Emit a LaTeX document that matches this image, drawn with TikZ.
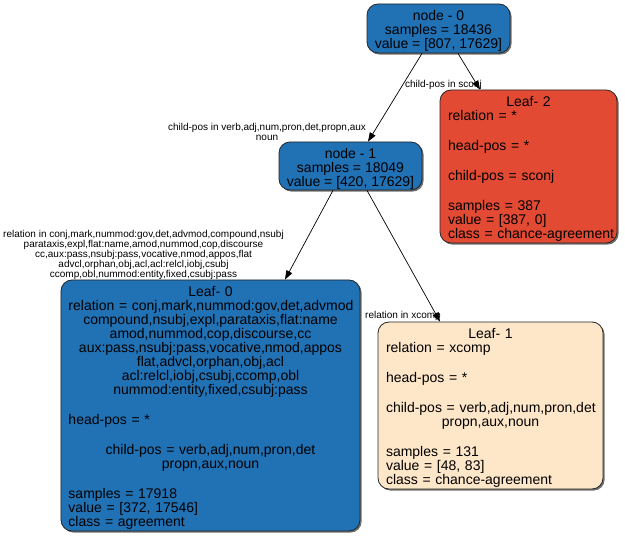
\documentclass[tikz,border=0pt]{standalone}
\usepackage{fontspec}
\setmainfont{Liberation Sans}
\usetikzlibrary{arrows.meta,shadows}

\definecolor{splitblue}{RGB}{33,113,181}
\definecolor{leafred}{RGB}{227,74,51}
\definecolor{leafpeach}{RGB}{254,230,200}

% left-justified line inside a centred node
\newcommand{\lft}[1]{\makebox[\hsize][l]{#1}}
% taller first line, pushes the text block slightly down
\newcommand{\firstline}{\rule{0pt}{15.5bp}}

\tikzset{
  treebox/.style={draw=black!85, line width=0.8bp, rounded corners=11bp,
    inner sep=0pt, align=center,
    font=\fontsize{14bp}{14bp}\selectfont,
    drop shadow={shadow xshift=1.6bp, shadow yshift=-1.6bp, fill=black!70, opacity=0.8}},
  edgelabel/.style={inner sep=0pt, align=center, font=\fontsize{10bp}{10bp}\selectfont},
  treeedge/.style={draw=black, line width=0.7bp, -{Triangle[length=9bp,width=6.5bp]}}
}

\begin{document}
\begin{tikzpicture}[x=1bp, y=-1bp]
\useasboundingbox (0,0) rectangle (625,536);

% inner nodes
\node[treebox, fill=splitblue, minimum width=143bp, minimum height=49bp]
  (n0) at (438.5,28.5) {\firstline node - 0\\samples = 18436\\value = [807, 17629]};
\node[treebox, fill=splitblue, minimum width=143bp, minimum height=48bp]
  (n1) at (350.5,166) {\firstline node - 1\\samples = 18049\\value = [420, 17629]};

% leaves
\node[treebox, fill=leafred, minimum width=177bp, minimum height=153bp, text width=161bp]
  (l2) at (528.5,166.5) {\firstline Leaf- 2\\
  \lft{relation = *}\\[16bp]
  \lft{head-pos = *}\\[16bp]
  \lft{child-pos = sconj}\\[16bp]
  \lft{samples = 387}\\
  \lft{value = [387, 0]}\\
  \lft{class = chance-agreement}};

\node[treebox, fill=splitblue, minimum width=299bp, minimum height=251bp, text width=284bp]
  (l0) at (210.5,405.5) {\firstline Leaf- 0\\
  \lft{relation = conj,mark,nummod:gov,det,advmod}\\
  compound,nsubj,expl,parataxis,flat:name\\
  amod,nummod,cop,discourse,cc\\
  aux:pass,nsubj:pass,vocative,nmod,appos\\
  flat,advcl,orphan,obj,acl\\
  acl:relcl,iobj,csubj,ccomp,obl\\
  nummod:entity,fixed,csubj:pass\\[16bp]
  \lft{head-pos = *}\\[16bp]
  child-pos = verb,adj,num,pron,det\\
  propn,aux,noun\\[16bp]
  \lft{samples = 17918}\\
  \lft{value = [372, 17546]}\\
  \lft{class = agreement}};

\node[treebox, fill=leafpeach, minimum width=225bp, minimum height=167bp, text width=209bp]
  (l1) at (490.5,405.5) {\firstline Leaf- 1\\
  \lft{relation = xcomp}\\[16bp]
  \lft{head-pos = *}\\[16bp]
  \lft{child-pos = verb,adj,num,pron,det}\\
  propn,aux,noun\\[16bp]
  \lft{samples = 131}\\
  \lft{value = [48, 83]}\\
  \lft{class = chance-agreement}};

% edge labels
\node[edgelabel] (e01) at (267,132) {child-pos in verb,adj,num,pron,det,propn,aux\\noun};
\node[edgelabel] (e02) at (443.5,85) {child-pos in sconj};
\node[edgelabel] (e10) at (143.5,255) {relation in conj,mark,nummod:gov,det,advmod,compound,nsubj\\
  parataxis,expl,flat:name,amod,nummod,cop,discourse\\
  cc,aux:pass,nsubj:pass,vocative,nmod,appos,flat\\
  advcl,orphan,obj,acl,acl:relcl,iobj,csubj\\
  ccomp,obl,nummod:entity,fixed,csubj:pass};
\node[edgelabel] (e11) at (403,316) {relation in xcomp};

% edges
\draw[treeedge] ([xshift=-16.5bp]n0.south) -- ([xshift=17.5bp]n1.north);
\draw[treeedge] ([xshift=19.5bp]n0.south) -- ([xshift=-48.5bp]l2.north);
\draw[treeedge] ([xshift=-17.5bp]n1.south) -- ([xshift=74.5bp]l0.north);
\draw[treeedge] ([xshift=16.5bp]n1.south) -- ([xshift=-50.5bp]l1.north);
\end{tikzpicture}
\end{document}
